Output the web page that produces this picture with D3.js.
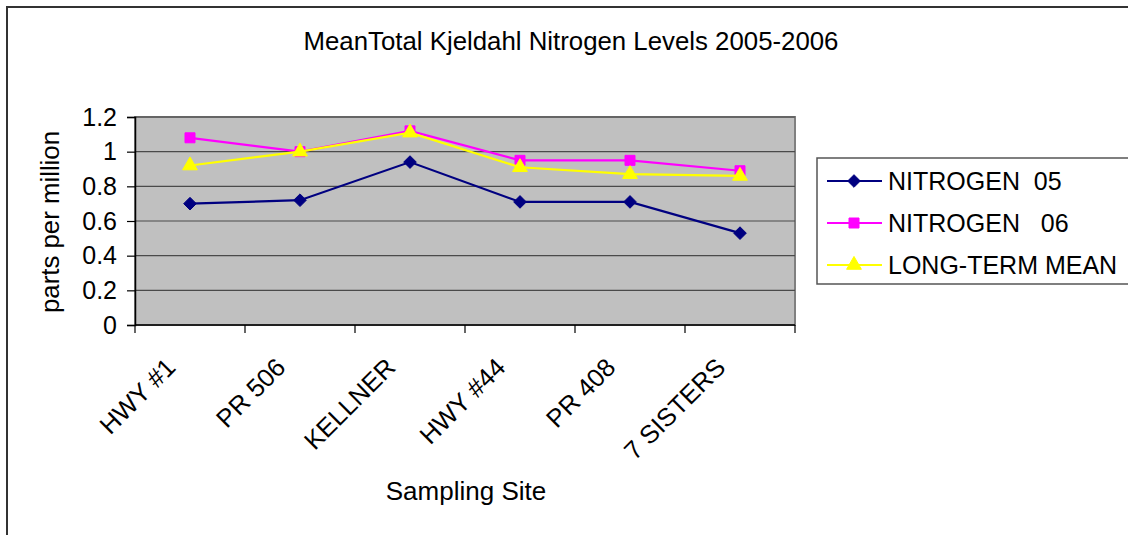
<!DOCTYPE html>
<html>
<head>
<meta charset="utf-8">
<script src="https://cdn.jsdelivr.net/npm/d3@7"></script>
<style>
  html, body { margin: 0; padding: 0; background: #fff; }
  svg { display: block; font-family: "Liberation Sans", Arial, sans-serif; }
</style>
</head>
<body>
<svg id="chart" width="1128" height="535"></svg>
<script>
const categories = ["HWY #1", "PR 506", "KELLNER", "HWY #44", "PR 408", "7 SISTERS"];
const nitrogen05 = [0.70, 0.72, 0.94, 0.71, 0.71, 0.53];
const nitrogen06 = [1.08, 1.00, 1.12, 0.95, 0.95, 0.89];
const longTermMean = [0.92, 1.00, 1.11, 0.91, 0.87, 0.86];
const yTicks = [0, 0.2, 0.4, 0.6, 0.8, 1, 1.2];
const yTickLabels = ["0", "0.2", "0.4", "0.6", "0.8", "1", "1.2"];
const seriesNames = ["NITROGEN  05", "NITROGEN   06", "LONG-TERM MEAN"];
const titleText = "MeanTotal Kjeldahl Nitrogen Levels 2005-2006";
const xTitle = "Sampling Site";
const yTitle = "parts per million";

// diamond drawn as a square rotated 45 degrees
const diamondSym = { draw(ctx, size) { const r = Math.sqrt(size / 2); ctx.moveTo(0, -r); ctx.lineTo(r, 0); ctx.lineTo(0, r); ctx.lineTo(-r, 0); ctx.closePath(); } };

const series = [
  { name: seriesNames[0], values: nitrogen05, color: "#000080", symbol: diamondSym, size: 80 },
  { name: seriesNames[1], values: nitrogen06, color: "#ff00ff", symbol: d3.symbolSquare, size: 100 },
  { name: seriesNames[2], values: longTermMean, color: "#ffff00", symbol: d3.symbolTriangle, size: 95 }
];

const svg = d3.select("#chart");
const FS = 25;

// outer chart border (right/bottom fall outside the visible area)
svg.append("rect").attr("x", 7).attr("y", 7).attr("width", 1140).attr("height", 560)
  .attr("fill", "#fff").attr("stroke", "#333").attr("stroke-width", 2);

const plot = { left: 135, right: 795, top: 117, bottom: 325 };

const x = d3.scaleBand().domain(categories).range([plot.left, plot.right]);
const y = d3.scaleLinear().domain([0, 1.2]).range([plot.bottom, plot.top]);

// plot area
svg.append("rect")
  .attr("x", plot.left).attr("y", plot.top)
  .attr("width", plot.right - plot.left).attr("height", plot.bottom - plot.top)
  .attr("fill", "#c0c0c0").attr("stroke", "#808080").attr("stroke-width", 2);

// gridlines
svg.append("g").selectAll("line").data(yTicks.filter(d => d > 0)).join("line")
  .attr("x1", plot.left).attr("x2", plot.right)
  .attr("y1", d => y(d)).attr("y2", d => y(d))
  .attr("stroke", "#4a4a4a").attr("stroke-width", 1.2);

// y axis
const yAxis = d3.axisLeft(y).tickValues(yTicks)
  .tickFormat((d, i) => yTickLabels[i]).tickSize(8).tickPadding(10);
const gy = svg.append("g").attr("transform", `translate(${plot.left},0)`).call(yAxis);
gy.select(".domain").attr("stroke", "#000").attr("stroke-width", 1.5);
gy.selectAll(".tick line").attr("stroke", "#000").attr("stroke-width", 1.2);
gy.selectAll(".tick text").attr("font-size", FS).attr("fill", "#000")
  .attr("font-family", "'Liberation Sans', Arial, sans-serif");

// x axis line and boundary ticks
svg.append("line").attr("x1", plot.left).attr("x2", plot.right)
  .attr("y1", plot.bottom).attr("y2", plot.bottom)
  .attr("stroke", "#000").attr("stroke-width", 1.5);
const boundaries = categories.map(c => x(c)).concat([x(categories[categories.length - 1]) + x.bandwidth()]);
svg.append("g").selectAll("line").data(boundaries).join("line")
  .attr("x1", d => d).attr("x2", d => d)
  .attr("y1", plot.bottom).attr("y2", plot.bottom + 8)
  .attr("stroke", "#000").attr("stroke-width", 1.2);

// x labels (rotated)
svg.append("g").selectAll("text").data(categories).join("text")
  .attr("transform", d => `translate(${x(d) + x.bandwidth() / 2 - 13},369) rotate(-45)`)
  .attr("text-anchor", "end").attr("font-size", 25.5).attr("fill", "#000")
  .text(d => d);

// lines and markers
const cx = d => x(d) + x.bandwidth() / 2;
series.forEach(s => {
  const pts = categories.map((c, i) => [cx(c), y(s.values[i])]);
  svg.append("path").datum(pts)
    .attr("d", d3.line())
    .attr("fill", "none").attr("stroke", s.color).attr("stroke-width", 2.2);
  svg.append("g").selectAll("path").data(pts).join("path")
    .attr("transform", d => `translate(${d[0]},${d[1]})`)
    .attr("d", d3.symbol().type(s.symbol).size(s.size))
    .attr("fill", s.color).attr("stroke", s.color).attr("stroke-width", 1);
});

// titles
svg.append("text").attr("x", 571).attr("y", 50).attr("text-anchor", "middle")
  .attr("font-size", 25.8).attr("fill", "#000").text(titleText);
svg.append("text").attr("x", 466).attr("y", 500)
  .attr("text-anchor", "middle").attr("font-size", 26).attr("fill", "#000").text(xTitle);
svg.append("text").attr("transform", `translate(59,222) rotate(-90)`)
  .attr("text-anchor", "middle").attr("font-size", 25.8).attr("fill", "#000").text(yTitle);

// legend
const lg = svg.append("g");
lg.append("rect").attr("x", 817).attr("y", 158).attr("width", 330).attr("height", 126)
  .attr("fill", "#fff").attr("stroke", "#555").attr("stroke-width", 1.5);
const rowY = d3.scalePoint().domain(seriesNames).range([181, 265]);
series.forEach(s => {
  const yy = rowY(s.name);
  lg.append("line").attr("x1", 827).attr("x2", 882).attr("y1", yy).attr("y2", yy)
    .attr("stroke", s.color).attr("stroke-width", 2.2);
  lg.append("path").attr("transform", `translate(854,${yy})`)
    .attr("d", d3.symbol().type(s.symbol).size(s.size))
    .attr("fill", s.color).attr("stroke", s.color);
  lg.append("text").attr("x", 888).attr("y", yy).attr("dy", "0.35em")
    .attr("font-size", FS).attr("fill", "#000").attr("xml:space", "preserve")
    .style("white-space", "pre").text(s.name);
});
</script>
</body>
</html>
